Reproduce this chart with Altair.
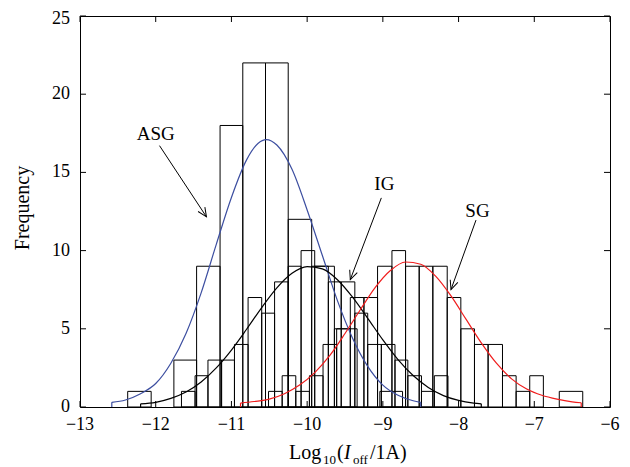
import math
import altair as alt
import pandas as pd

# ---------------- data ----------------
x_ticks = [-13, -12, -11, -10, -9, -8, -7, -6]
y_ticks = [0, 5, 10, 15, 20, 25]

series_names = ["ASG", "IG", "SG"]
series_colors = ["#3c4ea0", "#000000", "#f01c1c"]

# ASG histogram (bin left edge, right edge, count)
asg_left = [-12.37, -11.76, -11.46, -11.15, -10.85, -10.55, -10.25, -9.94, -9.64, -9.04]
asg_right = [-12.06, -11.46, -11.15, -10.85, -10.55, -10.25, -9.94, -9.64, -9.34, -8.74]
asg_count = [1, 3, 9, 18, 22, 22, 12, 9, 5, 1]

# IG histogram
ig_edges = [-11.66, -11.48, -11.31, -11.13, -10.96, -10.78, -10.60, -10.43, -10.25, -10.08,
            -9.90, -9.72, -9.55, -9.37, -9.20, -9.02, -8.84, -8.67, -8.49, -8.32, -8.14]
ig_count = [1, 2, 3, 3, 4, 7, 6, 8, 9, 10, 9, 8, 8, 6, 4, 4, 3, 2, 1, 2]

# SG histogram
sg_edges = [-10.51, -10.33, -10.15, -9.97, -9.79, -9.61, -9.43, -9.25, -9.07, -8.88, -8.70,
            -8.52, -8.34, -8.15, -7.97, -7.79, -7.61, -7.42, -7.24, -7.06, -6.88]
sg_count = [1, 2, 1, 2, 4, 5, 7, 7, 9, 10, 9, 9, 9, 7, 5, 4, 4, 2, 1, 2]
sg_extra_left = [-6.67]
sg_extra_right = [-6.36]
sg_extra_count = [1]

# fitted curves
asg_cx = [-12.58, -12.4, -12.2, -12.0, -11.8, -11.6, -11.4, -11.2, -11.0, -10.8, -10.65,
          -10.54, -10.4, -10.2, -10.0, -9.8, -9.6, -9.4, -9.2, -9.0, -8.8, -8.6, -8.5]
asg_cy = [0.3, 0.45, 0.85, 1.5, 2.8, 4.7, 7.3, 10.4, 13.4, 15.8, 16.85,
          17.1, 16.75, 15.2, 12.6, 9.7, 6.8, 4.4, 2.6, 1.4, 0.75, 0.4, 0.3]

ig_cx = [-12.2, -12.0, -11.8, -11.6, -11.4, -11.2, -11.0, -10.8, -10.6, -10.4, -10.2, -10.0,
         -9.8, -9.6, -9.4, -9.2, -9.0, -8.8, -8.6, -8.4, -8.2, -8.0, -7.8, -7.7]
ig_cy = [0.2, 0.3, 0.55, 0.96, 1.6, 2.5, 3.64, 4.97, 6.36, 7.62, 8.55, 8.98,
         8.83, 8.14, 7.02, 5.67, 4.29, 3.03, 2.01, 1.25, 0.73, 0.42, 0.25, 0.2]

sg_cx = [-10.88, -10.7, -10.5, -10.3, -10.1, -9.9, -9.7, -9.5, -9.3, -9.1, -8.9, -8.7,
         -8.5, -8.3, -8.1, -7.9, -7.7, -7.5, -7.3, -7.1, -6.9, -6.7, -6.5, -6.38]
sg_cy = [0.25, 0.35, 0.5, 0.85, 1.4, 2.2, 3.3, 4.7, 6.2, 7.65, 8.73, 9.27,
         9.13, 8.35, 7.1, 5.6, 4.1, 2.8, 1.8, 1.15, 0.75, 0.5, 0.33, 0.27]

# annotations: label position and arrow (start -> tip), data units
ann_label = ["ASG", "IG", "SG"]
ann_tx = [-12.0, -8.98, -7.75]
ann_ty = [17.45, 14.28, 12.54]
arrow_x0 = [-11.95, -9.02, -7.77]
arrow_y0 = [16.71, 13.37, 11.95]
arrow_x1 = [-11.33, -9.43, -8.10]
arrow_y1 = [12.16, 8.15, 7.51]

# ---------------- layout ----------------
W, H = 530, 391
TOP = 8
XMIN, XMAX = -13, -6
YMIN, YMAX = 0, 25
FONT = "Liberation Serif"

xscale = alt.Scale(domain=[XMIN, XMAX], nice=False, zero=False)
yscale = alt.Scale(domain=[YMIN, YMAX], nice=False, zero=False)
color_scale = alt.Scale(domain=series_names, range=series_colors)

# ---------------- tables ----------------
rows = []
for l, r, c in zip(asg_left, asg_right, asg_count):
    rows.append({"series": "ASG", "x0": l, "x1": r, "count": c})
for l, r, c in zip(ig_edges[:-1], ig_edges[1:], ig_count):
    rows.append({"series": "IG", "x0": l, "x1": r, "count": c})
for l, r, c in zip(sg_edges[:-1] + sg_extra_left, sg_edges[1:] + sg_extra_right, sg_count + sg_extra_count):
    rows.append({"series": "SG", "x0": l, "x1": r, "count": c})
bars_df = pd.DataFrame(rows)

crows = []
ends = []
for name, xs, ys in [("ASG", asg_cx, asg_cy), ("IG", ig_cx, ig_cy), ("SG", sg_cx, sg_cy)]:
    for i, (xv, yv) in enumerate(zip(xs, ys)):
        crows.append({"series": name, "x": xv, "y": yv, "order": i})
    ends.append({"series": name, "x": xs[0], "y": ys[0]})
    ends.append({"series": name, "x": xs[-1], "y": ys[-1]})
curve_df = pd.DataFrame(crows)
ends_df = pd.DataFrame(ends)

pxx = W / (XMAX - XMIN)
pxy = H / (YMAX - YMIN)
angles = []
for x0, y0, x1, y1 in zip(arrow_x0, arrow_y0, arrow_x1, arrow_y1):
    dx = (x1 - x0) * pxx
    dy = -(y1 - y0) * pxy
    angles.append((math.degrees(math.atan2(-dx, dy)) + 360.0) % 360.0)
ann_df = pd.DataFrame({"label": ann_label, "tx": ann_tx, "ty": ann_ty,
                       "x0": arrow_x0, "y0": arrow_y0, "x1": arrow_x1, "y1": arrow_y1,
                       "ang": angles})

def fmt(v):
    return ("\u2212" + str(abs(v))) if v < 0 else str(v)

xt_df = pd.DataFrame({"v": x_ticks, "t": [fmt(v) for v in x_ticks]})
yt_df = pd.DataFrame({"v": y_ticks, "t": [fmt(v) for v in y_ticks]})
one = pd.DataFrame({"a": [0]})

# ---------------- layers ----------------
bars = alt.Chart(bars_df).mark_rect(fill="white", fillOpacity=0, stroke="black",
                                    strokeWidth=1, strokeOpacity=1).encode(
    x=alt.X("x0:Q", scale=xscale, axis=None),
    x2="x1:Q",
    y=alt.Y("count:Q", scale=yscale, axis=None),
    y2=alt.datum(0),
)

curves = alt.Chart(curve_df).mark_line(strokeWidth=1.2, interpolate="monotone").encode(
    x=alt.X("x:Q", scale=xscale, axis=None),
    y=alt.Y("y:Q", scale=yscale, axis=None),
    color=alt.Color("series:N", scale=color_scale, legend=None),
    detail="series:N",
    order="order:Q",
)

drops = alt.Chart(ends_df).mark_rule(strokeWidth=1.2).encode(
    x=alt.X("x:Q", scale=xscale, axis=None),
    y=alt.Y("y:Q", scale=yscale, axis=None),
    y2=alt.datum(0),
    color=alt.Color("series:N", scale=color_scale, legend=None),
)

shafts = alt.Chart(ann_df).mark_rule(color="black", strokeWidth=1).encode(
    x=alt.X("x0:Q", scale=xscale, axis=None),
    y=alt.Y("y0:Q", scale=yscale, axis=None),
    x2="x1:Q",
    y2="y1:Q",
)

heads = alt.Chart(ann_df).mark_point(shape="M -0.45 -1 L 0 0 L 0.45 -1", filled=False,
                                      stroke="black", strokeWidth=1, size=324, opacity=1).encode(
    x=alt.X("x1:Q", scale=xscale, axis=None),
    y=alt.Y("y1:Q", scale=yscale, axis=None),
    angle=alt.Angle("ang:Q", scale=None),
)

labels = alt.Chart(ann_df).mark_text(font=FONT, fontSize=19, color="black",
                                     align="center", baseline="middle").encode(
    x=alt.X("tx:Q", scale=xscale, axis=None),
    y=alt.Y("ty:Q", scale=yscale, axis=None),
    text="label:N",
)

# inward tick marks on all four sides
tick_len = 6
ticks_bottom = alt.Chart(xt_df).mark_rule(color="black", strokeWidth=1).encode(
    x=alt.X("v:Q", scale=xscale, axis=None), y=alt.value(H), y2=alt.value(H - tick_len))
ticks_top = alt.Chart(xt_df).mark_rule(color="black", strokeWidth=1).encode(
    x=alt.X("v:Q", scale=xscale, axis=None), y=alt.value(0), y2=alt.value(tick_len))
ticks_left = alt.Chart(yt_df).mark_rule(color="black", strokeWidth=1).encode(
    y=alt.Y("v:Q", scale=yscale, axis=None), x=alt.value(0), x2=alt.value(tick_len))
ticks_right = alt.Chart(yt_df).mark_rule(color="black", strokeWidth=1).encode(
    y=alt.Y("v:Q", scale=yscale, axis=None), x=alt.value(W), x2=alt.value(W - tick_len))

# tick labels
xlabels = alt.Chart(xt_df).mark_text(font=FONT, fontSize=18, color="black",
                                     align="center", baseline="alphabetic").encode(
    x=alt.X("v:Q", scale=xscale, axis=None), y=alt.value(H + 23), text="t:N")
ylabels = alt.Chart(yt_df).transform_filter(alt.datum.v < YMAX).mark_text(
    font=FONT, fontSize=18, color="black", align="right", baseline="middle").encode(
    y=alt.Y("v:Q", scale=yscale, axis=None), x=alt.value(-10), text="t:N")
# the top label sits at the page edge: nudge it slightly down so it is not cut
ylabel_top = alt.Chart(yt_df).transform_filter(alt.datum.v >= YMAX).mark_text(
    font=FONT, fontSize=18, color="black", align="right", baseline="middle", dy=3).encode(
    y=alt.Y("v:Q", scale=yscale, axis=None), x=alt.value(-10), text="t:N")

# axis titles
def txt(s, x, y, size, style="normal", angle=0):
    return alt.Chart(one).mark_text(font=FONT, fontSize=size, fontStyle=style, color="black",
                                    align="left" if angle == 0 else "center",
                                    baseline="alphabetic" if angle == 0 else "middle",
                                    angle=angle).encode(
        x=alt.value(x), y=alt.value(y), text=alt.value(s))

TB = 443
title_parts = [
    txt("Log", 209, TB, 20),
    txt("10", 243, TB + 5, 13),
    txt("(", 257, TB, 20),
    txt("I", 264, TB, 20, "italic"),
    txt("off", 273, TB + 5, 13),
    txt("/1A)", 290, TB, 20),
    txt("Frequency", -57, 192, 20, angle=270),
]

chart = alt.layer(
    bars, curves, drops, shafts, heads, labels,
    ticks_bottom, ticks_top, ticks_left, ticks_right,
    xlabels, ylabels, ylabel_top,
    *title_parts,
).properties(
    width=W, height=H,
    autosize=alt.AutoSizeParams(type="none"),
    padding={"left": 72, "top": TOP, "right": 12, "bottom": 60},
    background="white",
).configure_view(stroke="black", strokeWidth=1)

chart.save("out.html", embed_options={"renderer": "svg", "actions": False})
